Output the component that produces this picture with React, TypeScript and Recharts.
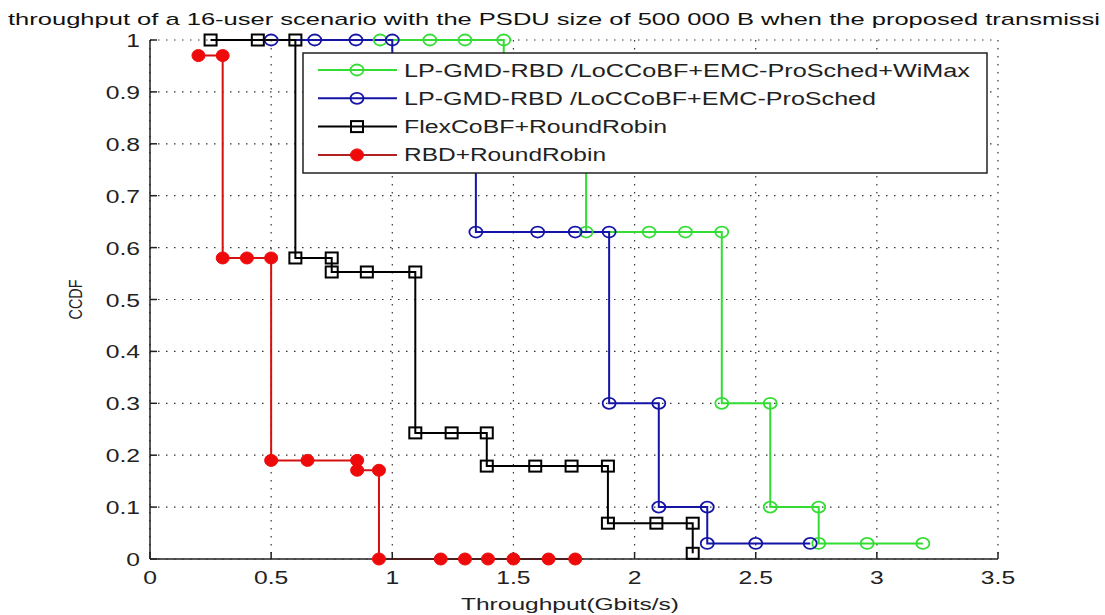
import React from 'react';
import { LineChart, Line, XAxis, YAxis, CartesianGrid, Legend, Label } from 'recharts';

// values (Gbit/s vs CCDF)
const greenX = [0.95, 1.155, 1.3, 1.46, 1.46, 1.8, 1.8, 2.06, 2.21, 2.36, 2.36, 2.56, 2.56, 2.76, 2.76, 2.96, 3.19];
const greenY = [1, 1, 1, 1, 0.88, 0.88, 0.63, 0.63, 0.63, 0.63, 0.3, 0.3, 0.1, 0.1, 0.03, 0.03, 0.03];

const blueX = [0.5, 0.68, 0.85, 1.0, 1.0, 1.345, 1.345, 1.6, 1.755, 1.895, 1.895, 2.1, 2.1, 2.3, 2.3, 2.5, 2.725];
const blueY = [1, 1, 1, 1, 0.88, 0.88, 0.63, 0.63, 0.63, 0.63, 0.3, 0.3, 0.1, 0.1, 0.03, 0.03, 0.03];

const blackX = [0.25, 0.445, 0.6, 0.6, 0.75, 0.75, 0.895, 1.095, 1.095, 1.245, 1.39, 1.39, 1.59, 1.74, 1.89, 1.89, 2.09, 2.24, 2.24];
const blackY = [1, 1, 1, 0.58, 0.58, 0.553, 0.553, 0.553, 0.243, 0.243, 0.243, 0.179, 0.179, 0.179, 0.179, 0.069, 0.069, 0.069, 0.011];

const redX = [0.2, 0.3, 0.3, 0.4, 0.5, 0.5, 0.65, 0.855, 0.855, 0.945, 0.945, 1.2, 1.3, 1.395, 1.5, 1.645, 1.755];
const redY = [0.97, 0.97, 0.58, 0.58, 0.58, 0.19, 0.19, 0.19, 0.171, 0.171, 0, 0, 0, 0, 0, 0, 0];

const xTicks = [0, 0.5, 1, 1.5, 2, 2.5, 3, 3.5];
const yTicks = [0, 0.1, 0.2, 0.3, 0.4, 0.5, 0.6, 0.7, 0.8, 0.9, 1];

const seriesNames = [
  'LP-GMD-RBD /LoCCoBF+EMC-ProSched+WiMax',
  'LP-GMD-RBD /LoCCoBF+EMC-ProSched',
  'FlexCoBF+RoundRobin',
  'RBD+RoundRobin',
];
const legendTextWidths = [566, 472, 263, 202];

const title = 'throughput of a 16-user scenario with the PSDU size of 500 000 B when the proposed transmissi';

const FONT = "'Liberation Sans', Arial, sans-serif";

const toPoints = (xs: number[], ys: number[]) => xs.map((x, i) => ({ x, y: ys[i] }));

const series = [
  { name: seriesNames[0], data: toPoints(greenX, greenY), color: '#33dd33', marker: 'circle' },
  { name: seriesNames[1], data: toPoints(blueX, blueY), color: '#1414a6', marker: 'circle' },
  { name: seriesNames[2], data: toPoints(blackX, blackY), color: '#000000', marker: 'square' },
  { name: seriesNames[3], data: toPoints(redX, redY), color: '#d41010', marker: 'dot' },
];

const fmt = (v: number) => String(Math.round(v * 10) / 10);

function Marker({ kind, color, cx, cy }: { kind: string; color: string; cx: number; cy: number }) {
  if (kind === 'square') {
    return <rect x={cx - 6} y={cy - 5.5} width={12} height={11} fill="none" stroke={color} strokeWidth={2} />;
  }
  if (kind === 'dot') {
    return <ellipse cx={cx} cy={cy} rx={6.5} ry={6} fill="#ee0a0a" stroke="#ee0a0a" strokeWidth={1} />;
  }
  return <ellipse cx={cx} cy={cy} rx={6.5} ry={5.5} fill="none" stroke={color} strokeWidth={1.8} />;
}

const makeDot = (kind: string, color: string) => (props: any) => {
  const { cx, cy, index } = props;
  if (cx == null || cy == null) return <g key={`d-${index}`} />;
  return (
    <g key={`d-${index}`}>
      <Marker kind={kind} color={color} cx={cx} cy={cy} />
    </g>
  );
};

function XTick(props: any) {
  const { x, y, payload } = props;
  return (
    <g transform={`translate(${x},${y + 18}) scale(1.3,1)`}>
      <text x={0} y={0} textAnchor="middle" fontSize={19} fontFamily={FONT} fill="#222">
        {fmt(payload.value)}
      </text>
    </g>
  );
}

function YTick(props: any) {
  const { x, y, payload } = props;
  return (
    <g transform={`translate(${x},${y + 7}) scale(1.3,1)`}>
      <text x={0} y={0} textAnchor="end" fontSize={19} fontFamily={FONT} fill="#222">
        {fmt(payload.value)}
      </text>
    </g>
  );
}

function LegendBox() {
  return (
    <svg width={686} height={122} style={{ display: 'block' }}>
      <rect x={1} y={1} width={684} height={120} fill="#fff" stroke="#222" strokeWidth={1.5} />
      {series.map((s, i) => {
        const cy = 18 + i * 28.3;
        return (
          <g key={s.name}>
            <line x1={16} x2={95} y1={cy} y2={cy} stroke={s.marker === 'dot' ? '#b22020' : s.color} strokeWidth={2} />
            <Marker kind={s.marker} color={s.color} cx={55} cy={cy} />
            <text
              x={102}
              y={cy + 6.5}
              fontSize={18}
              fontFamily={FONT}
              fill="#222"
              textLength={legendTextWidths[i]}
              lengthAdjust="spacingAndGlyphs"
            >
              {s.name}
            </text>
          </g>
        );
      })}
    </svg>
  );
}

export default function App() {
  return (
    <div style={{ position: 'absolute', left: 0, top: 0, width: 1105, height: 615, background: '#fff' }}>
      <LineChart width={1105} height={615} margin={{ top: 40, right: 107, bottom: 26, left: 90 }}>
        <CartesianGrid stroke="#333" strokeDasharray="1.5 6.5" strokeWidth={1.2} />
        <XAxis
          type="number"
          dataKey="x"
          domain={[0, 3.5]}
          ticks={xTicks}
          interval={0}
          height={30}
          tickSize={-7}
          tickMargin={14}
          axisLine={{ stroke: '#222', strokeWidth: 1.5 }}
          tickLine={{ stroke: '#222', strokeWidth: 1.5 }}
          tick={<XTick />}
        >
          <Label
            content={(p: any) => {
              const vb = p.viewBox;
              const cx = vb.x + vb.width / 2 - 4;
              return (
                <text
                  x={cx - 109}
                  y={vb.y + 51}
                  fontSize={17}
                  fontFamily={FONT}
                  fill="#222"
                  textLength={218}
                  lengthAdjust="spacingAndGlyphs"
                >
                  Throughput(Gbits/s)
                </text>
              );
            }}
          />
        </XAxis>
        <XAxis
          xAxisId="top"
          orientation="top"
          type="number"
          dataKey="x"
          domain={[0, 3.5]}
          ticks={xTicks}
          interval={0}
          height={0}
          tickSize={-7}
          tick={false}
          axisLine={{ stroke: '#222', strokeWidth: 1.5 }}
          tickLine={{ stroke: '#222', strokeWidth: 1.5 }}
        />
        <YAxis
          type="number"
          domain={[0, 1]}
          ticks={yTicks}
          interval={0}
          width={60}
          tickSize={-7}
          tickMargin={17}
          axisLine={{ stroke: '#222', strokeWidth: 1.5 }}
          tickLine={{ stroke: '#222', strokeWidth: 1.5 }}
          tick={<YTick />}
        >
          <Label
            content={(p: any) => {
              const vb = p.viewBox;
              const cx = vb.x - 15;
              const cy = vb.y + vb.height / 2;
              return (
                <text
                  transform={`translate(${cx},${cy}) rotate(-90)`}
                  x={-20}
                  y={7}
                  fontSize={19}
                  fontFamily={FONT}
                  fill="#222"
                  textLength={40}
                  lengthAdjust="spacingAndGlyphs"
                >
                  CCDF
                </text>
              );
            }}
          />
        </YAxis>
        <YAxis
          yAxisId="right"
          orientation="right"
          type="number"
          domain={[0, 1]}
          ticks={yTicks}
          interval={0}
          width={0}
          tickSize={-7}
          tick={false}
          axisLine={{ stroke: '#222', strokeWidth: 1.5 }}
          tickLine={{ stroke: '#222', strokeWidth: 1.5 }}
        />
        {series.map((s) => (
          <Line
            key={s.name}
            data={s.data}
            dataKey="y"
            name={s.name}
            type="linear"
            stroke={s.color}
            strokeWidth={2}
            dot={makeDot(s.marker, s.color)}
            activeDot={false}
            isAnimationActive={false}
          />
        ))}
        <Legend
          layout="horizontal"
          verticalAlign="middle"
          align="center"
          wrapperStyle={{ left: 302, top: 52, width: 686, height: 122 }}
          content={() => <LegendBox />}
        />
      </LineChart>
      <svg width={1105} height={40} style={{ position: 'absolute', left: 0, top: 0 }}>
        <text
          x={8}
          y={25}
          fontSize={17}
          fontFamily={FONT}
          fill="#111"
          textLength={1092}
          lengthAdjust="spacingAndGlyphs"
        >
          {title}
        </text>
      </svg>
    </div>
  );
}
